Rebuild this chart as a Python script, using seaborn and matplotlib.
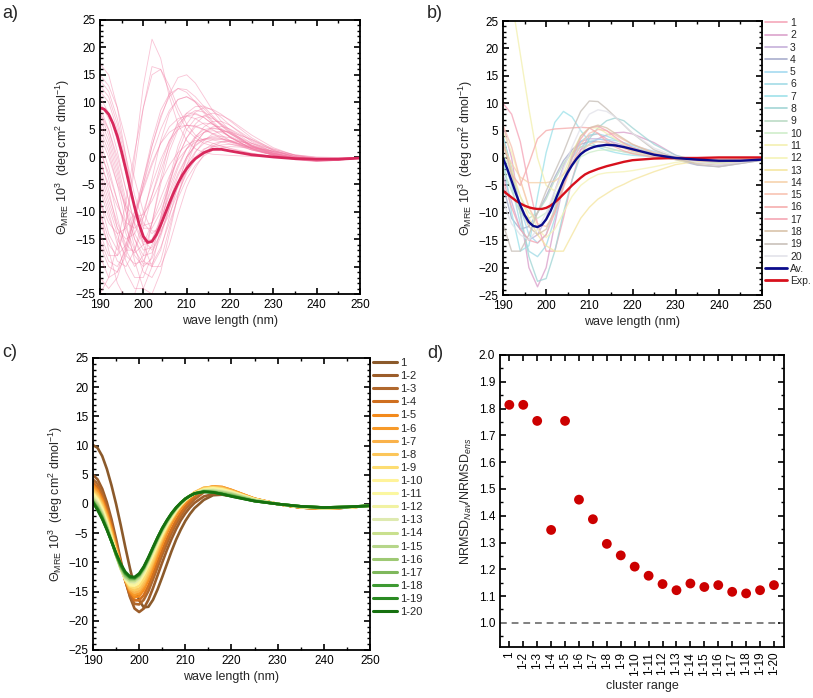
import numpy as np
import pandas as pd
import matplotlib
matplotlib.use('Agg')
import matplotlib.pyplot as plt
from matplotlib.lines import Line2D
from matplotlib.ticker import MultipleLocator, FormatStrFormatter
import seaborn as sns

sns.set_theme(style='ticks')
plt.rcParams['font.family'] = ['Liberation Sans', 'DejaVu Sans']
plt.rcParams['mathtext.fontset'] = 'custom'
plt.rcParams['mathtext.rm'] = 'Liberation Sans'
plt.rcParams['mathtext.it'] = 'Liberation Sans:italic'
plt.rcParams['mathtext.bf'] = 'Liberation Sans:bold'
plt.rcParams.update({'axes.linewidth': 1.2, 'axes.edgecolor': 'black',
                     'xtick.labelsize': 8.5, 'ytick.labelsize': 8.5})

# coarse wavelength grid (nm) for the thin background spectra
WL = [190, 192, 194, 196, 198, 200, 202, 204, 206, 208, 210, 212, 214, 216, 218, 220,
      225, 230, 235, 240, 245, 250]
# finer grid for the highlighted spectra
WL_F = [190, 191, 192, 193, 194, 195, 196, 197, 198, 199, 200, 201, 202, 203, 204, 205, 206,
        207, 208, 209, 210, 211, 212, 214, 216, 218, 220, 225, 230, 235, 240, 245, 250]

# ---- panel a: ensemble spectra + mean
A_CURVES = [
    [17, 15, 9, 0, -9, -15, -17, -14, -9, -5, -2, 0, 1.5, 2, 2, 1.6, 0.7, 0.1, -0.3, -0.5, -0.4, -0.2],
    [-25, -22, -16, -8, 1, 9, 15, 16, 13, 9, 6, 4, 3, 2.5, 2, 1.5, 0.6, 0.1, -0.3, -0.4, -0.3, -0.1],
    [-8, -14, -17, -12, 0, 13, 21.5, 18, 11, 6, 3, 1.5, 0.8, 0.5, 0.4, 0.3, 0.1, 0, -0.2, -0.3, -0.2, -0.1],
    [-14, -18, -18, -12, -2, 9, 16.5, 16, 12, 8, 5, 3.5, 2.5, 2, 1.5, 1.1, 0.4, 0, -0.3, -0.4, -0.3, -0.1],
    [-18, -22, -21, -16, -10, -4, 2, 7, 11.5, 14.5, 15, 13.5, 11, 8.5, 6.5, 4.8, 2, 0.5, -0.4, -0.7, -0.5, -0.2],
    [-5, -10, -16, -21, -24, -24, -20, -13, -5, 1, 5, 7, 7.5, 7, 6, 5, 2.5, 0.8, -0.3, -0.7, -0.5, -0.2],
    [8, 4, -2, -9, -15, -19, -20, -17, -11, -5, 0, 3.5, 5.5, 6.5, 6.5, 5.8, 3.2, 1.2, 0, -0.5, -0.4, -0.2],
    [2, -4, -11, -17, -20, -18, -12, -5, 1, 5, 7.5, 8.5, 8.2, 7.2, 5.8, 4.5, 1.9, 0.5, -0.4, -0.7, -0.5, -0.2],
    [12, 10, 5, -2, -9, -13, -13, -10, -5.5, -1.5, 1.5, 3.5, 4.5, 4.8, 4.5, 3.8, 2, 0.7, -0.1, -0.5, -0.4, -0.2],
    [-10, -15, -19, -20, -17, -11, -4, 3, 8, 10.5, 11, 10, 8.3, 6.5, 5, 3.7, 1.5, 0.3, -0.4, -0.6, -0.5, -0.2],
    [5, 1, -5, -12, -19, -24, -25, -21, -14, -7, -1.5, 2.5, 4.5, 5.2, 5, 4.3, 2.2, 0.7, -0.2, -0.6, -0.5, -0.2],
    [0, -6, -13, -17, -17, -13, -7, -1.5, 3, 6, 7.5, 7.8, 7.2, 6, 4.8, 3.6, 1.5, 0.4, -0.3, -0.6, -0.4, -0.2],
    [14, 12, 7, 0, -7, -12, -14, -12.5, -9, -5, -1.5, 1, 2.5, 3.2, 3.3, 3, 1.8, 0.7, 0, -0.4, -0.3, -0.2],
    [-3, -8, -13, -15, -14, -10, -5, -0.5, 3, 5, 5.8, 5.7, 5, 4.2, 3.4, 2.7, 1.3, 0.4, -0.2, -0.4, -0.3, -0.1],
    [9, 5, -1, -8, -14, -17, -16.5, -13, -8, -3.5, 0, 2.2, 3.3, 3.6, 3.4, 2.9, 1.5, 0.4, -0.3, -0.6, -0.5, -0.2],
    [-15, -19, -20, -17, -11, -5, 0.5, 5, 8.5, 10.5, 11, 10.2, 8.8, 7.2, 5.7, 4.3, 1.8, 0.4, -0.5, -0.8, -0.6, -0.2],
    [3, -2, -8, -14, -18, -20, -18.5, -14.5, -9.5, -4.5, -0.5, 2.5, 4.5, 5.5, 5.6, 5.1, 3, 1.2, 0.1, -0.4, -0.4, -0.2],
    [-8, -12, -14, -13, -10, -6, -1.5, 2.5, 5.5, 7, 7.5, 7, 6, 5, 4, 3, 1.3, 0.3, -0.3, -0.5, -0.4, -0.2],
    [10, 7, 1, -6, -12.5, -16, -15.5, -11, -5, 0, 3.5, 5.5, 6.2, 6, 5.2, 4.2, 2, 0.6, -0.2, -0.6, -0.5, -0.2],
    [6, 2, -4, -10, -15, -18, -17.5, -14, -9.5, -5.5, -2.5, -0.5, 1, 1.8, 2.2, 2.3, 1.8, 1, 0.3, -0.2, -0.3, -0.2],
    [-2, -7, -12, -16, -17.5, -16, -12, -7.5, -3.5, -0.5, 1.5, 2.7, 3.3, 3.4, 3.2, 2.8, 1.6, 0.6, -0.1, -0.5, -0.4, -0.2],
    [15, 13, 9, 3, -4, -10, -13.5, -13.5, -10.5, -6.5, -3, -0.5, 1.3, 2.4, 2.8, 2.8, 2, 0.9, 0.1, -0.3, -0.3, -0.2],
    [-12, -16, -18, -16, -11, -4, 3, 8.5, 11.5, 12.5, 11.8, 10, 8, 6.2, 4.8, 3.6, 1.5, 0.3, -0.5, -0.8, -0.6, -0.2],
    [7, 3, -3, -10, -16.5, -21, -22, -19, -13, -7, -2.5, 0.8, 3, 4.2, 4.7, 4.6, 3.2, 1.5, 0.3, -0.3, -0.3, -0.2],
    [-22, -24, -22, -17, -11, -5.5, -1, 2.5, 4.5, 5.5, 5.8, 5.5, 5, 4.3, 3.7, 3, 1.6, 0.6, -0.1, -0.4, -0.3, -0.1],
    [4, 0, -5, -9, -11, -10.5, -8, -4.5, -1.5, 0.8, 2.2, 3, 3.2, 3.1, 2.8, 2.4, 1.3, 0.4, -0.2, -0.5, -0.4, -0.2],
    [-6, -11, -15, -18, -19.5, -19, -16, -11.5, -7, -3, 0, 2, 3.2, 3.8, 3.8, 3.5, 2.2, 1, 0.1, -0.3, -0.3, -0.2],
    [11, 8, 3, -3, -9, -12.5, -12, -9, -4.5, 0, 3.5, 6, 7.5, 8, 7.6, 6.8, 4, 1.7, 0.3, -0.3, -0.4, -0.2],
    [-1, -5, -9, -12, -13, -11, -7, -2.5, 2, 5.5, 8, 9.2, 9.3, 8.5, 7.2, 5.8, 2.8, 0.9, -0.3, -0.8, -0.6, -0.2],
    [1, -3, -8, -13, -17, -19.5, -19.5, -16.5, -12, -7.5, -4, -1.5, 0.2, 1.2, 1.7, 1.9, 1.7, 1.1, 0.4, 0, -0.1, -0.1],
    [13, 11, 6, -1, -9, -16, -20, -20, -16, -10.5, -5.5, -2, 0.5, 2, 2.7, 3, 2.5, 1.4, 0.4, -0.1, -0.2, -0.2],
    [-4, -9, -14, -19, -22, -22, -18, -11, -4, 2, 6, 8.2, 9, 8.7, 7.8, 6.6, 3.5, 1.3, 0, -0.6, -0.5, -0.2],
    [-16, -20, -21, -18, -12, -5, 2, 7.5, 11, 12.5, 12.3, 11, 9.2, 7.5, 6, 4.6, 2.1, 0.7, -0.2, -0.6, -0.5, -0.2],
    [8, 5, 0, -6, -12, -15.5, -15, -11.5, -6.5, -2, 1.5, 3.8, 5, 5.3, 5, 4.4, 2.5, 1, 0, -0.4, -0.4, -0.2],
    [-10, -17, -23, -26, -25, -20, -12, -4, 2.5, 6.5, 8, 8, 7.2, 6, 4.8, 3.6, 1.6, 0.4, -0.3, -0.6, -0.5, -0.2],
]
A_MEAN = [9.0, 8.7, 7.8, 6.1, 3.8, 0.9, -2.4, -5.9, -9.2, -12.2, -14.5, -15.6, -15.4, -14.2, -12.4,
          -10.4, -8.4, -6.5, -4.8, -3.3, -2.1, -1.1, -0.3, 0.8, 1.4, 1.4, 1.1, 0.4, 0.0, -0.3, -0.4,
          -0.4, -0.2]

# ---- panel b: 20 cluster spectra, average and experiment
B_LABELS = [str(i) for i in range(1, 21)]
B_COLORS = ['#f5a8ba', '#dba3cc', '#c6b0da', '#a9aecd', '#a6daf0', '#a3dbe6', '#a0e2ea', '#a3d6d6',
            '#bcdcc6', '#cfeecb', '#f3f0b2', '#f5f3b8', '#f5e6a2', '#f6d3ae', '#f8c3b3', '#f6aeae',
            '#f5a7b4', '#d9c3aa', '#c9c1ba', '#e3e3ea']
B_CURVES = [
    [10, 8, 3, -5, -12, -17, -17, -11, -4, 1.5, 4, 4.5, 3.5, 2.5, 1.8, 1.2, 0.4, 0, -0.3, -0.4, -0.3, -0.2],
    [6, 0, -10, -20, -23.5, -20, -12, -5, -1, 1.5, 2.5, 3.5, 4.2, 4.6, 4.7, 4.4, 2.8, 0.5, -0.8, -1.2, -0.8, -0.3],
    [-3, -8, -13, -15, -14, -11, -6, -1.5, 1.5, 3, 3.5, 3.5, 3.2, 2.8, 2.3, 1.8, 0.8, 0, -0.8, -1.3, -0.9, -0.3],
    [-5, -11, -13, -12.5, -10, -7, -3.5, -0.5, 1.5, 2.5, 3, 3, 2.8, 2.4, 2, 1.6, 0.6, -0.3, -1.3, -1.6, -1, -0.4],
    [4, -2, -9, -14, -15.5, -14, -9, -4, 0, 2, 3, 3.4, 3.4, 3.2, 2.8, 2.3, 1.2, 0.2, -0.6, -0.9, -0.6, -0.2],
    [0, -5, -12, -17, -18, -16, -11, -5, 0, 3, 4.2, 4.4, 4, 3.4, 2.7, 2, 0.8, 0, -0.6, -0.8, -0.5, -0.2],
    [0, -10, -17, -16, -7, 1, 6.5, 8.5, 7.5, 5, 3, 2, 1.4, 1, 0.7, 0.5, 0.2, 0, -0.3, -0.4, -0.3, -0.2],
    [4, -2, -10, -18, -22.5, -22, -17, -10, -4, 0.5, 3.5, 5.5, 6.8, 7.3, 6.8, 5.5, 2.5, 0.5, -0.5, -0.8, -0.5, -0.2],
    [-2, -6, -10, -11, -10, -7.5, -4, -1, 1, 2, 2.3, 2.2, 1.9, 1.5, 1.1, 0.8, 0.2, -0.2, -0.5, -0.6, -0.4, -0.2],
    [1, -3, -7, -10, -11, -10, -7, -4, -1.5, 0.2, 1, 1.4, 1.5, 1.4, 1.2, 1, 0.4, 0, -0.3, -0.4, -0.3, -0.1],
    [38, 29, 19, 9, 0, -5, -6, -3, 1, 4, 5.5, 5.5, 4.5, 3.5, 2.5, 1.8, 0.5, -0.3, -0.8, -1, -0.7, -0.3],
    [5, 1, -4, -9, -13, -14.5, -13, -10, -7, -5, -3.8, -3, -2.7, -2.6, -2.5, -2.3, -1.6, -0.8, -0.4, -0.3, -0.2, -0.1],
    [3, -2, -7, -11, -14, -16, -17, -17, -14, -11, -9, -7.5, -6.5, -5.5, -4.8, -4, -2.5, -1.2, -0.6, -0.3, -0.2, -0.1],
    [2, -1, -3.5, -4.5, -4.5, -4.5, -4.2, -3, -1, 1, 2.5, 3, 2.8, 2.3, 1.8, 1.3, 0.5, 0, -0.4, -0.6, -0.4, -0.2],
    [6, 2, -4, -9, -12, -12.5, -10, -5.5, -1, 2.5, 4.5, 5.2, 5, 4.2, 3.3, 2.5, 1, 0.1, -0.5, -0.7, -0.5, -0.2],
    [3, -3, -5, -1, 3.5, 5, 5.3, 5.4, 5.5, 5.6, 5.5, 4.5, 3, 2, 1.3, 0.8, 0.2, -0.2, -0.4, -0.4, -0.3, -0.2],
    [-4, -9, -13, -15, -15.5, -14, -10, -5, 0, 3.5, 5.5, 5.8, 5, 3.8, 2.7, 1.9, 0.6, 0, -0.4, -0.6, -0.4, -0.2],
    [3, -3, -9, -12.5, -14, -13, -9.5, -4.5, 0.5, 4, 5.5, 6, 5.5, 4.5, 3.5, 2.5, 0.8, -0.2, -1, -1.2, -0.8, -0.3],
    [-12, -17, -17, -14, -10, -6, -2.5, 1, 5, 8.5, 10.4, 10.3, 9, 7.5, 6, 4.5, 1.5, 0, -1.2, -1.6, -1, -0.4],
    [-8, -12, -14, -15, -13, -10, -6, -2, 2, 5.5, 8, 8.8, 8.5, 7.5, 6, 4.5, 1.8, 0.3, -0.8, -1.2, -0.8, -0.3],
]
B_AV = [0.0, -2.0, -4.2, -6.5, -8.6, -10.4, -11.7, -12.4, -12.6, -12.2, -11.2, -9.7, -7.9, -6.0,
        -4.1, -2.6, -1.3, -0.2, 0.7, 1.3, 1.7, 2.0, 2.2, 2.4, 2.3, 2.0, 1.6, 0.6, 0.0, -0.3, -0.5,
        -0.5, -0.3]
B_EXP = [-6.0, -6.6, -7.2, -7.8, -8.3, -8.7, -9.0, -9.2, -9.3, -9.3, -9.1, -8.7, -8.1, -7.4, -6.6,
         -5.8, -5.0, -4.3, -3.6, -3.0, -2.6, -2.3, -2.0, -1.5, -1.1, -0.7, -0.4, -0.1, 0.0, 0.0,
         0.1, 0.1, 0.1]

# ---- panel c: spectra averaged over growing cluster ranges
C_LABELS = ['1'] + ['1-%d' % i for i in range(2, 21)]
C_COLORS = ['#8b5a2b', '#9c5d2a', '#b0682d', '#cf6f1f', '#f38a1c', '#f79a2a', '#fab24a', '#fcc65a',
            '#fddd72', '#fff39a', '#fbf7a0', '#f1f2a2', '#deeab0', '#c9e08e', '#b6d68a', '#9ec974',
            '#7fb85c', '#3e9a32', '#2a8a22', '#16700f']
C_CURVES = [
    [10.1, 9.6, 8.2, 6.0, 3.2, 0.0, -3.6, -7.4, -11.0, -14.2, -16.5, -17.7, -17.6, -16.4, -14.6, -12.5, -10.3, -8.1, -6.1, -4.4, -2.9, -1.7, -0.7, 0.7, 1.5, 1.6, 1.4, 0.6, 0.0, -0.6, -0.8, -0.6, -0.3],
    [5.0, 4.2, 2.6, 0.3, -2.6, -6.0, -9.6, -13.0, -15.9, -17.9, -18.5, -17.9, -16.4, -14.4, -12.2, -10.0, -7.9, -6.0, -4.3, -2.8, -1.6, -0.6, 0.2, 1.3, 1.7, 1.6, 1.4, 0.6, 0.0, -0.6, -0.8, -0.6, -0.3],
    [4.2, 3.4, 1.8, -0.5, -3.3, -6.6, -10.0, -13.2, -15.7, -17.1, -17.2, -16.4, -14.9, -12.9, -10.8, -8.7, -6.8, -5.0, -3.4, -2.1, -0.9, 0.0, 0.8, 2.0, 2.4, 2.3, 2.0, 0.8, 0.0, -0.6, -0.8, -0.6, -0.3],
    [3.6, 2.8, 1.2, -1.0, -3.8, -7.0, -10.2, -13.1, -15.3, -16.5, -16.5, -15.6, -14.0, -12.0, -9.9, -7.9, -6.0, -4.3, -2.8, -1.5, -0.4, 0.5, 1.3, 2.4, 2.8, 2.7, 2.3, 0.9, 0.0, -0.6, -0.8, -0.6, -0.3],
    [3.2, 2.3, 0.7, -1.5, -4.2, -7.3, -10.3, -13.0, -15.0, -16.0, -15.8, -14.7, -13.0, -11.0, -8.9, -6.9, -5.0, -3.4, -2.0, -0.8, 0.2, 1.0, 1.7, 2.6, 3.0, 2.9, 2.4, 0.9, 0.0, -0.6, -0.8, -0.6, -0.3],
    [2.9, 2.0, 0.4, -1.8, -4.5, -7.6, -10.5, -13.0, -14.8, -15.6, -15.3, -14.2, -12.5, -10.5, -8.4, -6.4, -4.6, -3.0, -1.7, -0.5, 0.5, 1.2, 1.9, 2.7, 3.0, 2.9, 2.4, 0.9, 0.0, -0.6, -0.8, -0.6, -0.3],
    [2.6, 1.7, 0.1, -2.1, -4.8, -7.8, -10.6, -13.0, -14.6, -15.2, -14.9, -13.8, -12.1, -10.1, -8.0, -6.1, -4.3, -2.8, -1.5, -0.3, 0.6, 1.3, 2.0, 2.8, 2.9, 2.8, 2.3, 0.9, 0.0, -0.6, -0.8, -0.6, -0.3],
    [2.3, 1.4, -0.2, -2.4, -5.1, -8.0, -10.8, -13.0, -14.4, -14.8, -14.5, -13.3, -11.6, -9.7, -7.6, -5.7, -4.0, -2.6, -1.3, -0.2, 0.7, 1.4, 2.0, 2.7, 2.9, 2.7, 2.2, 0.8, 0.0, -0.5, -0.7, -0.6, -0.3],
    [2.0, 1.1, -0.5, -2.7, -5.4, -8.2, -10.9, -12.9, -14.1, -14.4, -14.0, -12.8, -11.1, -9.2, -7.3, -5.5, -3.8, -2.5, -1.2, -0.2, 0.7, 1.4, 1.9, 2.6, 2.8, 2.6, 2.1, 0.8, 0.0, -0.5, -0.7, -0.6, -0.3],
    [1.8, 0.8, -0.8, -3.0, -5.6, -8.4, -11.0, -12.9, -13.9, -14.0, -13.4, -12.1, -10.5, -8.7, -6.9, -5.2, -3.7, -2.4, -1.2, -0.2, 0.6, 1.3, 1.8, 2.5, 2.7, 2.5, 2.1, 0.8, 0.0, -0.5, -0.7, -0.6, -0.3],
    [1.6, 0.6, -1.0, -3.2, -5.8, -8.6, -11.1, -12.9, -13.7, -13.8, -13.2, -11.9, -10.3, -8.5, -6.7, -5.0, -3.5, -2.2, -1.0, -0.1, 0.7, 1.3, 1.8, 2.4, 2.6, 2.4, 2.0, 0.8, 0.0, -0.5, -0.7, -0.6, -0.3],
    [1.4, 0.4, -1.2, -3.4, -6.0, -8.7, -11.1, -12.8, -13.5, -13.6, -13.0, -11.7, -10.1, -8.3, -6.5, -4.8, -3.4, -2.1, -0.9, 0.0, 0.7, 1.3, 1.8, 2.4, 2.5, 2.3, 2.0, 0.7, 0.0, -0.5, -0.7, -0.6, -0.3],
    [1.2, 0.2, -1.4, -3.6, -6.1, -8.8, -11.1, -12.7, -13.3, -13.4, -12.8, -11.5, -9.9, -8.1, -6.3, -4.7, -3.3, -2.0, -0.9, 0.0, 0.8, 1.3, 1.8, 2.3, 2.4, 2.2, 1.9, 0.7, 0.0, -0.5, -0.7, -0.5, -0.3],
    [1.0, 0.0, -1.6, -3.8, -6.2, -8.8, -11.0, -12.6, -13.2, -13.2, -12.6, -11.3, -9.7, -7.9, -6.2, -4.6, -3.2, -1.9, -0.8, 0.1, 0.8, 1.4, 1.8, 2.3, 2.3, 2.1, 1.8, 0.7, 0.0, -0.5, -0.7, -0.5, -0.3],
    [0.8, -0.2, -1.8, -3.9, -6.3, -8.8, -10.9, -12.4, -13.0, -13.0, -12.4, -11.2, -9.6, -7.8, -6.1, -4.5, -3.1, -1.9, -0.8, 0.1, 0.8, 1.4, 1.8, 2.2, 2.2, 2.0, 1.7, 0.6, 0.0, -0.4, -0.6, -0.5, -0.3],
    [0.7, -0.4, -2.0, -4.0, -6.3, -8.7, -10.8, -12.3, -12.9, -12.9, -12.3, -11.1, -9.5, -7.7, -6.0, -4.4, -3.0, -1.8, -0.7, 0.1, 0.9, 1.4, 1.8, 2.2, 2.1, 1.9, 1.6, 0.6, 0.0, -0.4, -0.6, -0.5, -0.3],
    [0.5, -0.6, -2.2, -4.2, -6.4, -8.7, -10.7, -12.1, -12.8, -12.8, -12.2, -11.0, -9.4, -7.6, -5.9, -4.3, -2.9, -1.7, -0.7, 0.2, 0.9, 1.4, 1.8, 2.1, 2.1, 1.8, 1.5, 0.5, 0.0, -0.4, -0.6, -0.5, -0.3],
    [0.4, -0.8, -2.3, -4.3, -6.4, -8.6, -10.5, -11.9, -12.6, -12.7, -12.1, -10.9, -9.3, -7.5, -5.8, -4.2, -2.9, -1.7, -0.7, 0.2, 0.9, 1.4, 1.8, 2.1, 2.0, 1.7, 1.4, 0.5, 0.0, -0.4, -0.6, -0.5, -0.3],
    [0.3, -0.9, -2.5, -4.4, -6.4, -8.5, -10.4, -11.8, -12.5, -12.6, -12.0, -10.8, -9.2, -7.4, -5.7, -4.2, -2.8, -1.6, -0.6, 0.2, 0.9, 1.4, 1.8, 2.1, 2.0, 1.7, 1.3, 0.5, 0.0, -0.4, -0.6, -0.5, -0.3],
    [0.2, -1.1, -2.6, -4.4, -6.4, -8.4, -10.2, -11.6, -12.4, -12.5, -11.9, -10.7, -9.1, -7.4, -5.7, -4.1, -2.8, -1.6, -0.6, 0.2, 0.9, 1.4, 1.8, 2.1, 2.0, 1.7, 1.3, 0.5, 0.0, -0.4, -0.6, -0.5, -0.3],
]

# ---- panel d: NRMSD ratio per cluster range
D_LABELS = C_LABELS
D_VALUES = [1.814, 1.814, 1.754, 1.347, 1.754, 1.46, 1.387, 1.295, 1.252, 1.21, 1.176, 1.145,
            1.122, 1.147, 1.134, 1.141, 1.116, 1.11, 1.122, 1.141]


def long_form(curves, labels, grid):
    rows = []
    for lab, vals in zip(labels, curves):
        for w, v in zip(grid, vals):
            rows.append((lab, w, v))
    return pd.DataFrame(rows, columns=['curve', 'wl', 'val'])


YLAB = r'$\Theta_{\mathrm{MRE}}$ 10$^3$  (deg cm$^2$ dmol$^{-1}$)'


def frame(ax):
    ax.tick_params(which='both', top=True, right=True, bottom=True, left=True,
                   direction='in', color='black', labelcolor='black')
    ax.tick_params(which='major', length=4.5, width=1.2)
    ax.tick_params(which='minor', length=2.5, width=1.0)
    for s in ax.spines.values():
        s.set_visible(True)
        s.set_linewidth(1.3)
        s.set_color('black')


def style_cd(ax):
    ax.set_xlim(190, 250)
    ax.set_ylim(-25, 25)
    ax.xaxis.set_major_locator(MultipleLocator(10))
    ax.xaxis.set_minor_locator(MultipleLocator(5))
    ax.yaxis.set_major_locator(MultipleLocator(5))
    ax.yaxis.set_minor_locator(MultipleLocator(1))
    ax.set_xlabel('wave length (nm)', fontsize=9, labelpad=3)
    ax.set_ylabel(YLAB, fontsize=9, labelpad=2)
    frame(ax)


W, H = 813, 698
fig = plt.figure(figsize=(W / 100, H / 100), dpi=100)


def box(l, t, r, b):
    return [l / W, 1 - b / H, (r - l) / W, (b - t) / H]


ax_a = fig.add_axes(box(100, 20, 360, 294))
ax_b = fig.add_axes(box(503, 21, 762, 295))
ax_c = fig.add_axes(box(93, 358, 370, 650))
ax_d = fig.add_axes(box(500, 355, 784, 647))

# a)
df_a = long_form(A_CURVES, ['a%d' % i for i in range(len(A_CURVES))], WL)
sns.lineplot(data=df_a, x='wl', y='val', units='curve', estimator=None, color='#f27aa3',
             lw=0.6, alpha=0.45, ax=ax_a)
sns.lineplot(x=WL_F, y=A_MEAN, color='#d8285c', lw=2.0, ax=ax_a)
style_cd(ax_a)

# b)
df_b = long_form(B_CURVES, B_LABELS, WL)
sns.lineplot(data=df_b, x='wl', y='val', hue='curve', palette=B_COLORS, hue_order=B_LABELS,
             lw=1.0, alpha=0.8, legend=False, ax=ax_b)
sns.lineplot(x=WL_F, y=B_EXP, color='#d7101c', lw=1.7, ax=ax_b)
sns.lineplot(x=WL_F, y=B_AV, color='#0b0c8c', lw=1.7, ax=ax_b)
style_cd(ax_b)
hb = [Line2D([], [], color=c, lw=1.2) for c in B_COLORS]
hb += [Line2D([], [], color='#0b0c8c', lw=2), Line2D([], [], color='#d7101c', lw=2)]
fig.legend(hb, B_LABELS + ['Av.', 'Exp.'], loc='upper left', bbox_to_anchor=(765 / W, 1 - 18 / H),
           frameon=False, fontsize=7.5, labelspacing=0.22, handlelength=2.1, handletextpad=0.3,
           borderpad=0, borderaxespad=0)

# c)
df_c = long_form(C_CURVES, C_LABELS, WL_F)
sns.lineplot(data=df_c, x='wl', y='val', hue='curve', palette=C_COLORS, hue_order=C_LABELS,
             lw=1.9, legend=False, ax=ax_c)
style_cd(ax_c)
hc = [Line2D([], [], color=c, lw=2.2) for c in C_COLORS]
fig.legend(hc, C_LABELS, loc='upper left', bbox_to_anchor=(373 / W, 1 - 358 / H),
           frameon=False, fontsize=8, labelspacing=0.28, handlelength=2.2, handletextpad=0.25,
           borderpad=0, borderaxespad=0)

# d)
df_d = pd.DataFrame({'range': D_LABELS, 'ratio': D_VALUES})
ax_d.axhline(1.0, color='#808080', ls=(0, (3.5, 2.5)), lw=1.4)
sns.scatterplot(data=df_d, x='range', y='ratio', color='#cc0000', s=50, edgecolor='none', ax=ax_d)
ax_d.set_xlim(-0.67, 19.72)
ax_d.set_ylim(0.91, 2.0)
ax_d.yaxis.set_major_locator(MultipleLocator(0.1))
ax_d.yaxis.set_minor_locator(MultipleLocator(0.05))
ax_d.yaxis.set_major_formatter(FormatStrFormatter('%.1f'))
frame(ax_d)
ax_d.tick_params(axis='x', which='minor', top=False, bottom=False)
ax_d.tick_params(axis='x', labelrotation=90)
ax_d.set_xlabel('cluster range', fontsize=9, labelpad=3)
ax_d.set_ylabel(r'NRMSD$_{Nav}$/NRMSD$_{ens}$', fontsize=9, labelpad=3)

for lab, x, y in [('a)', 2, 5), ('b)', 427, 5), ('c)', 2, 344), ('d)', 427, 345)]:
    fig.text(x / W, 1 - y / H, lab, fontsize=13, va='top', ha='left')

fig.savefig('out.png', dpi=100)
